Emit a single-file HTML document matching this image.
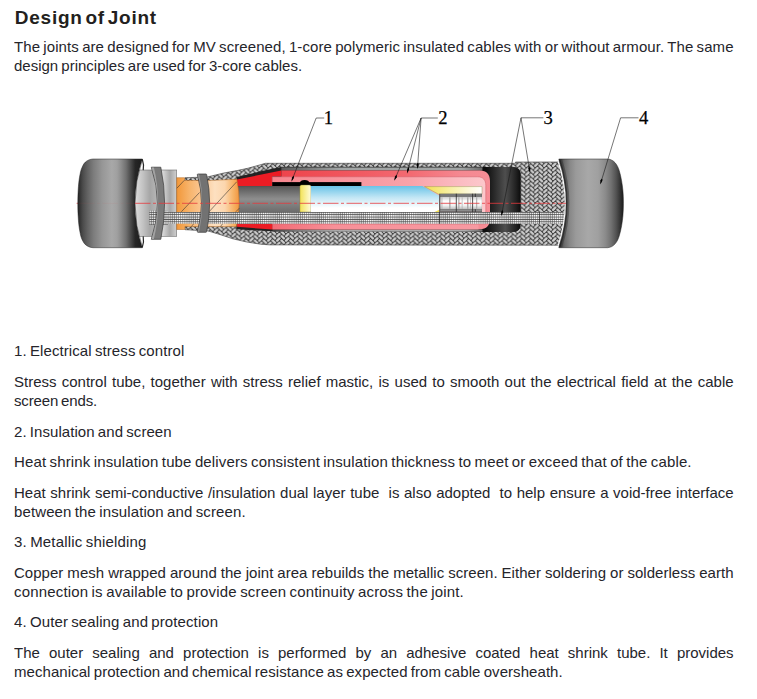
<!DOCTYPE html>
<html>
<head>
<meta charset="utf-8">
<title>Design of Joint</title>
<style>
html,body{margin:0;padding:0;background:#fff;}
body{width:757px;height:699px;position:relative;overflow:hidden;font-family:"Liberation Sans",sans-serif;color:#25252b;}
.l{position:absolute;left:14.0px;white-space:nowrap;font-size:15.0px;line-height:19px;height:19px;word-spacing:-1.0px;transform:scaleY(0.933);transform-origin:0 0;}
.j{text-align:justify;text-align-last:justify;}
h1{position:absolute;left:14.8px;top:6.1px;margin:0;font-size:19px;line-height:24px;height:24px;font-weight:bold;white-space:nowrap;letter-spacing:0.75px;word-spacing:-3.2px;color:#231f20;}
#dg{position:absolute;left:0;top:100px;}
.num{font-family:"Liberation Serif",serif;font-size:18.6px;fill:#000;stroke:#000;stroke-width:0.25px;}
</style>
</head>
<body>
<h1>Design of Joint</h1>
<div class="l j" style="top:38.3px;width:719.6px;letter-spacing:0.075px">The joints are designed for MV screened, 1-core polymeric insulated cables with or without armour. The same</div>
<div class="l" style="top:56.8px;letter-spacing:-0.005px">design principles are used for 3-core cables.</div>
<div class="l" style="top:342.2px;letter-spacing:0.089px">1. Electrical stress control</div>
<div class="l j" style="top:372.8px;width:719.6px;letter-spacing:0.000px">Stress control tube, together with stress relief mastic, is used to smooth out the electrical field at the cable</div>
<div class="l" style="top:392.3px;letter-spacing:-0.154px">screen ends.</div>
<div class="l" style="top:422.7px;letter-spacing:0.057px">2. Insulation and screen</div>
<div class="l" style="top:453.1px;letter-spacing:0.141px">Heat shrink insulation tube delivers consistent insulation thickness to meet or exceed that of the cable.</div>
<div class="l j" style="top:483.9px;width:719.6px;letter-spacing:0.000px">Heat shrink semi-conductive /insulation dual layer tube &nbsp;is also adopted &nbsp;to help ensure a void-free interface</div>
<div class="l" style="top:502.9px;letter-spacing:0.114px">between the insulation and screen.</div>
<div class="l" style="top:532.7px;letter-spacing:0.170px">3. Metallic shielding</div>
<div class="l j" style="top:564.2px;width:719.6px;letter-spacing:0.030px">Copper mesh wrapped around the joint area rebuilds the metallic screen. Either soldering or solderless earth</div>
<div class="l" style="top:582.9px;letter-spacing:0.172px">connection is available to provide screen continuity across the joint.</div>
<div class="l" style="top:613.4px;letter-spacing:0.099px">4. Outer sealing and protection</div>
<div class="l j" style="top:644.0px;width:719.6px;letter-spacing:0.000px">The outer sealing and protection is performed by an adhesive coated heat shrink tube. It provides</div>
<div class="l" style="top:662.9px;letter-spacing:0.062px">mechanical protection and chemical resistance as expected from cable oversheath.</div>
<svg id="dg" width="757" height="160" viewBox="0 100 757 160">
<defs>
  <pattern id="braid" width="8.90" height="4.40" patternUnits="userSpaceOnUse" patternTransform="translate(516.4 162.5)">
    <rect width="8.90" height="4.40" fill="#222222"/>
    <g fill="#cccccc"><rect x="-9.43" y="-7.80" width="5.50" height="2.40" rx="0.8" transform="rotate(-45 -6.68 -6.60)"/><rect x="-0.52" y="-7.80" width="5.50" height="2.40" rx="0.8" transform="rotate(-45 2.23 -6.60)"/><rect x="8.38" y="-7.80" width="5.50" height="2.40" rx="0.8" transform="rotate(-45 11.12 -6.60)"/><rect x="-9.43" y="-3.40" width="5.50" height="2.40" rx="0.8" transform="rotate(-45 -6.68 -2.20)"/><rect x="-0.52" y="-3.40" width="5.50" height="2.40" rx="0.8" transform="rotate(-45 2.23 -2.20)"/><rect x="8.38" y="-3.40" width="5.50" height="2.40" rx="0.8" transform="rotate(-45 11.12 -2.20)"/><rect x="-9.43" y="1.00" width="5.50" height="2.40" rx="0.8" transform="rotate(-45 -6.68 2.20)"/><rect x="-0.52" y="1.00" width="5.50" height="2.40" rx="0.8" transform="rotate(-45 2.23 2.20)"/><rect x="8.38" y="1.00" width="5.50" height="2.40" rx="0.8" transform="rotate(-45 11.12 2.20)"/><rect x="-9.43" y="5.40" width="5.50" height="2.40" rx="0.8" transform="rotate(-45 -6.68 6.60)"/><rect x="-0.52" y="5.40" width="5.50" height="2.40" rx="0.8" transform="rotate(-45 2.23 6.60)"/><rect x="8.38" y="5.40" width="5.50" height="2.40" rx="0.8" transform="rotate(-45 11.12 6.60)"/><rect x="-9.43" y="9.80" width="5.50" height="2.40" rx="0.8" transform="rotate(-45 -6.68 11.00)"/><rect x="-0.52" y="9.80" width="5.50" height="2.40" rx="0.8" transform="rotate(-45 2.23 11.00)"/><rect x="8.38" y="9.80" width="5.50" height="2.40" rx="0.8" transform="rotate(-45 11.12 11.00)"/><rect x="-4.97" y="-10.00" width="5.50" height="2.40" rx="0.8" transform="rotate(45 -2.22 -8.80)"/><rect x="3.93" y="-10.00" width="5.50" height="2.40" rx="0.8" transform="rotate(45 6.68 -8.80)"/><rect x="12.83" y="-10.00" width="5.50" height="2.40" rx="0.8" transform="rotate(45 15.58 -8.80)"/><rect x="-4.97" y="-5.60" width="5.50" height="2.40" rx="0.8" transform="rotate(45 -2.22 -4.40)"/><rect x="3.93" y="-5.60" width="5.50" height="2.40" rx="0.8" transform="rotate(45 6.68 -4.40)"/><rect x="12.83" y="-5.60" width="5.50" height="2.40" rx="0.8" transform="rotate(45 15.58 -4.40)"/><rect x="-4.97" y="-1.20" width="5.50" height="2.40" rx="0.8" transform="rotate(45 -2.22 0.00)"/><rect x="3.93" y="-1.20" width="5.50" height="2.40" rx="0.8" transform="rotate(45 6.68 0.00)"/><rect x="12.83" y="-1.20" width="5.50" height="2.40" rx="0.8" transform="rotate(45 15.58 0.00)"/><rect x="-4.97" y="3.20" width="5.50" height="2.40" rx="0.8" transform="rotate(45 -2.22 4.40)"/><rect x="3.93" y="3.20" width="5.50" height="2.40" rx="0.8" transform="rotate(45 6.68 4.40)"/><rect x="12.83" y="3.20" width="5.50" height="2.40" rx="0.8" transform="rotate(45 15.58 4.40)"/><rect x="-4.97" y="7.60" width="5.50" height="2.40" rx="0.8" transform="rotate(45 -2.22 8.80)"/><rect x="3.93" y="7.60" width="5.50" height="2.40" rx="0.8" transform="rotate(45 6.68 8.80)"/><rect x="12.83" y="7.60" width="5.50" height="2.40" rx="0.8" transform="rotate(45 15.58 8.80)"/></g>
  </pattern>
  <pattern id="mesh" width="2.1" height="2.38" patternUnits="userSpaceOnUse" patternTransform="translate(149 211.9)">
    <rect width="2.1" height="2.38" fill="#484848"/>
    <rect x="0.4" y="0.75" width="1.5" height="1.6" fill="#ffffff"/>
  </pattern>
  <linearGradient id="capL" x1="78" x2="143" y1="0" y2="0" gradientUnits="userSpaceOnUse">
    <stop offset="0" stop-color="#242424"/>
    <stop offset="0.038" stop-color="#3a3a3a"/>
    <stop offset="0.077" stop-color="#4c4c4c"/>
    <stop offset="0.146" stop-color="#626262"/>
    <stop offset="0.238" stop-color="#7c7c7c"/>
    <stop offset="0.37" stop-color="#969696"/>
    <stop offset="0.52" stop-color="#a8a8a8"/>
    <stop offset="0.6" stop-color="#a0a0a0"/>
    <stop offset="0.66" stop-color="#8e8e8e"/>
    <stop offset="0.74" stop-color="#707070"/>
    <stop offset="0.815" stop-color="#484848"/>
    <stop offset="0.88" stop-color="#262626"/>
    <stop offset="1" stop-color="#1a1a1a"/>
  </linearGradient>
  <linearGradient id="capR" x1="559" x2="624" y1="0" y2="0" gradientUnits="userSpaceOnUse">
    <stop offset="0" stop-color="#3a3a3a"/>
    <stop offset="0.04" stop-color="#505050"/>
    <stop offset="0.09" stop-color="#6e6e6e"/>
    <stop offset="0.17" stop-color="#888888"/>
    <stop offset="0.26" stop-color="#9a9a9a"/>
    <stop offset="0.45" stop-color="#a8a8a8"/>
    <stop offset="0.6" stop-color="#a0a0a0"/>
    <stop offset="0.71" stop-color="#8c8c8c"/>
    <stop offset="0.8" stop-color="#727272"/>
    <stop offset="0.88" stop-color="#525252"/>
    <stop offset="0.94" stop-color="#343434"/>
    <stop offset="1" stop-color="#161616"/>
  </linearGradient>
  <linearGradient id="sheathA" x1="135" x2="158" y1="0" y2="0" gradientUnits="userSpaceOnUse">
    <stop offset="0" stop-color="#dedede"/>
    <stop offset="0.35" stop-color="#c2c2c2"/>
    <stop offset="0.65" stop-color="#a6a6a6"/>
    <stop offset="1" stop-color="#b8b8b8"/>
  </linearGradient>
  <linearGradient id="sheathB" x1="163" x2="177" y1="0" y2="0" gradientUnits="userSpaceOnUse">
    <stop offset="0" stop-color="#d6d6d6"/>
    <stop offset="0.5" stop-color="#a8a8a8"/>
    <stop offset="1" stop-color="#d2d2d2"/>
  </linearGradient>
  <linearGradient id="orange" x1="177" x2="240" y1="0" y2="0" gradientUnits="userSpaceOnUse">
    <stop offset="0" stop-color="#f2983a"/>
    <stop offset="0.2" stop-color="#f7b46c"/>
    <stop offset="0.365" stop-color="#fac48e"/>
    <stop offset="0.6" stop-color="#fde0c0"/>
    <stop offset="0.76" stop-color="#fcd6ae"/>
    <stop offset="0.89" stop-color="#f7b468"/>
    <stop offset="1" stop-color="#f0923a"/>
  </linearGradient>
  <linearGradient id="core" x1="0" x2="0" y1="186" y2="212" gradientUnits="userSpaceOnUse">
    <stop offset="0" stop-color="#555"/>
    <stop offset="0.5" stop-color="#8e8e8e"/>
    <stop offset="1" stop-color="#6c6c6c"/>
  </linearGradient>
  <linearGradient id="yel" x1="300" x2="311" y1="0" y2="0" gradientUnits="userSpaceOnUse">
    <stop offset="0" stop-color="#f3e256"/>
    <stop offset="1" stop-color="#fffcdc"/>
  </linearGradient>
  <linearGradient id="yel2" x1="424" x2="482" y1="0" y2="0" gradientUnits="userSpaceOnUse">
    <stop offset="0" stop-color="#f2e052"/>
    <stop offset="0.4" stop-color="#f8ee9a"/>
    <stop offset="1" stop-color="#ffffff"/>
  </linearGradient>
  <linearGradient id="blue" x1="0" x2="0" y1="186" y2="212" gradientUnits="userSpaceOnUse">
    <stop offset="0" stop-color="#69c3e7"/>
    <stop offset="0.45" stop-color="#c4e7f5"/>
    <stop offset="0.85" stop-color="#ffffff"/>
    <stop offset="1" stop-color="#ffffff"/>
  </linearGradient>
  <linearGradient id="pinkA" x1="281" x2="490" y1="0" y2="0" gradientUnits="userSpaceOnUse">
    <stop offset="0" stop-color="#ee444c"/>
    <stop offset="0.28" stop-color="#f0545c"/>
    <stop offset="0.62" stop-color="#f36a72"/>
    <stop offset="0.86" stop-color="#f58891"/>
    <stop offset="1" stop-color="#f68d96"/>
  </linearGradient>
  <linearGradient id="pinkB" x1="272" x2="486" y1="0" y2="0" gradientUnits="userSpaceOnUse">
    <stop offset="0" stop-color="#f7858e"/>
    <stop offset="0.35" stop-color="#f8969e"/>
    <stop offset="0.65" stop-color="#f9a3aa"/>
    <stop offset="0.88" stop-color="#fbbcc2"/>
    <stop offset="1" stop-color="#fcc8cc"/>
  </linearGradient>
  <linearGradient id="pinkC" x1="272" x2="480" y1="0" y2="0" gradientUnits="userSpaceOnUse">
    <stop offset="0" stop-color="#f36a74"/>
    <stop offset="0.3" stop-color="#f79098"/>
    <stop offset="1" stop-color="#f79aa2"/>
  </linearGradient>
  <linearGradient id="tube" x1="486" x2="521" y1="0" y2="0" gradientUnits="userSpaceOnUse">
    <stop offset="0" stop-color="#0e0e0e"/>
    <stop offset="0.55" stop-color="#4e4e4e"/>
    <stop offset="0.85" stop-color="#222"/>
    <stop offset="1" stop-color="#0a0a0a"/>
  </linearGradient>
  <linearGradient id="gband" x1="281" x2="482" y1="0" y2="0" gradientUnits="userSpaceOnUse">
    <stop offset="0" stop-color="#5a5a5a"/>
    <stop offset="0.3" stop-color="#a2a6a6"/>
    <stop offset="0.9" stop-color="#a0a4a4"/>
    <stop offset="1" stop-color="#6a6a6a"/>
  </linearGradient>
  <linearGradient id="gband2" x1="272" x2="482" y1="0" y2="0" gradientUnits="userSpaceOnUse">
    <stop offset="0" stop-color="#3a3a3a"/>
    <stop offset="0.12" stop-color="#7a7a7a"/>
    <stop offset="0.3" stop-color="#a8a8a8"/>
    <stop offset="0.92" stop-color="#adadad"/>
    <stop offset="1" stop-color="#6a6a6a"/>
  </linearGradient>
  <linearGradient id="rib" x1="0" x2="0" y1="196.5" y2="209.5" gradientUnits="userSpaceOnUse">
    <stop offset="0" stop-color="#c8c8c8"/>
    <stop offset="0.35" stop-color="#ffffff"/>
    <stop offset="0.7" stop-color="#f0f0f0"/>
    <stop offset="1" stop-color="#b8b8b8"/>
  </linearGradient>
</defs>

<!-- centre line behind the left cap (barely visible) -->
<path d="M76.6,203.3 H79" stroke="#e8474d" stroke-width="0.8" fill="none"/>

<!-- outer braid -->
<path d="M185,177.7 L207.1,177 L223.8,173 L236.9,170.6 L247.6,168.3 L257.1,165.7 L265.4,163.3 L515.5,163.3 L515.5,162 L558.8,162 Q572,203.5 558.8,245.2 L269.8,244.9 L260.5,244.2 L246.6,242 L232.8,238.8 L218.9,234.2 L207.8,230.9 L185,229.7 Z" fill="url(#braid)" stroke="#3a3a3a" stroke-width="0.6"/>

<!-- light grey sheath -->
<rect x="134" y="170" width="25" height="66.3" fill="url(#sheathA)"/>
<rect x="158" y="170" width="18.7" height="66.3" fill="url(#sheathB)"/>
<rect x="134" y="170" width="42.7" height="66.3" fill="none" stroke="#6e6e6e" stroke-width="0.6"/>

<!-- black heat shrink tube (cutaway) -->
<path d="M236.6,177 L247.6,174.6 L259.5,171.6 L271.3,169 L280.9,166.9 L512.5,166.9 Q520.5,166.9 520.5,175 L520.5,224 Q520.5,232 512.5,232 L272.5,231.3 L236.3,229.3 Z" fill="#222"/>
<path d="M482,166.9 L512.5,166.9 Q520.5,166.9 520.5,175 L520.5,224 Q520.5,232 512.5,232 L482,232 Z" fill="url(#tube)"/>
<!-- grey lining bands -->
<rect x="281.4" y="167" width="201" height="3.5" fill="url(#gband)"/>
<rect x="272.5" y="229.5" width="210" height="2.1" fill="url(#gband2)"/>
<path d="M281,167.2 H482" stroke="#333" stroke-width="0.8" fill="none"/>
<path d="M281.4,170.55 H480" stroke="#6a4a4c" stroke-width="0.5" fill="none"/>

<!-- red mastic wedge -->
<path d="M237,179.4 L281.4,170.6 L281.4,176.5 L272.2,176.5 L272.2,186.2 L237,186.2 Z" fill="#ec1c24"/>
<path d="M237,223.8 L272.5,223.8 L272.5,229.6 L237,226.8 Z" fill="#ec1c24"/>

<!-- outer pink layer -->
<path d="M281.4,170.5 L480,170.5 C486.5,170.5 490,174.5 490,181 L490,219 C490,225.5 486.5,229.3 480,229.3 L272.5,229.3 L272.5,224 L281.4,224 Z" fill="url(#pinkA)"/>
<rect x="272.5" y="224" width="206" height="5.4" fill="url(#pinkC)"/>
<!-- inner pink layer -->
<path d="M272.2,176.8 L477.5,176.8 C483,176.8 485.8,180 485.8,185.5 L485.8,224.2 L272.2,224.2 Z" fill="url(#pinkB)" stroke="#cf5a64" stroke-width="0.5"/>

<!-- grey semicon core -->
<rect x="237" y="186.1" width="63" height="26" fill="url(#core)"/>
<!-- black stress control bar -->
<rect x="272.2" y="182.1" width="89.2" height="4" fill="#000"/>
<ellipse cx="304.6" cy="182.7" rx="4.5" ry="2.6" fill="#000"/>
<!-- yellow -->
<path d="M299.9,212 L299.9,186.6 Q299.9,185 301.5,185 L309.4,185 Q311,185 311,186.6 L311,212 Z" fill="url(#yel)" stroke="#77773a" stroke-width="0.4"/>
<!-- blue insulation -->
<path d="M311,186 L422.4,186 L439,195.6 L439,212 L311,212 Z" fill="url(#blue)"/>
<!-- yellow wedge -->
<path d="M424.5,186.6 L482,186.6 L482,194.2 L438.5,194.2 Z" fill="url(#yel2)" stroke="#8a8a4a" stroke-width="0.4"/>
<path d="M434.5,212 L439.3,209.8 L439.3,212 Z" fill="#f2e052"/>
<!-- connector -->
<rect x="439.1" y="193.7" width="42.9" height="18.2" fill="#585858"/>
<rect x="440.3" y="194.5" width="41.5" height="1" fill="#9a9a9a"/>
<rect x="440.3" y="210.2" width="41.5" height="1" fill="#9a9a9a"/>
<rect x="440.4" y="196.7" width="41.5" height="12.7" fill="url(#rib)"/>
<g fill="#a6a6a6">
  <rect x="441.6" y="197.2" width="0.7" height="11.7"/>
  <rect x="449.2" y="197.2" width="1.3" height="11.7"/>
  <rect x="458.3" y="197.2" width="1.1" height="11.7"/>
  <rect x="461.8" y="197.2" width="0.6" height="11.7"/>
  <rect x="467.1" y="197.2" width="1.3" height="11.7"/>
  <rect x="470.4" y="197.2" width="0.6" height="11.7"/>
  <rect x="476.2" y="197.2" width="1" height="11.7"/>
</g>
<g stroke="#262626" stroke-width="0.8">
  <path d="M456.3,193.7 V211.9"/>
  <path d="M472.6,193.7 V211.9"/>
  <path d="M475.3,193.7 V197 M475.3,209.2 V211.9"/>
</g>

<!-- orange bedding -->
<path d="M176.7,177.7 L184.5,177.7 L184.5,180.5 L208,180.5 L236.9,179.3 Q241.8,203 236.4,226.6 L207.7,226.6 L184.8,226.6 L184.8,229.5 L176.7,229.5 Z" fill="url(#orange)" stroke="#b0651c" stroke-width="0.5"/>
<g stroke="#2a2a2a" stroke-width="0.55" fill="none">
  <path d="M176.9,188.2 L184.3,180.3"/>
  <path d="M181.3,211.8 L199.5,192.5"/>
  <path d="M209,211.8 L236.7,181.8"/>
  <path d="M235.8,211.8 L239.3,208.2"/>
  <path d="M191.5,226.4 L193.5,224"/>
  <path d="M220.5,226.4 L222.5,224"/>
</g>

<!-- mesh strip (earth braid) -->
<path d="M149.2,210.4 L168,210.4 L168,211.9 L563.3,211.9 L564.6,223.8 L168,223.8 L168,225 L149.2,225 Z" fill="url(#mesh)"/>
<g stroke="#222" stroke-width="0.7">
  <path d="M439.5,211.9 V223.8"/>
  <path d="M539.4,211.9 V223.8"/>
</g>

<!-- rings -->
<path d="M151.3,167.2 L160.8,167.2 Q168.4,203.2 160.8,239.3 L151.3,239.3 Q163.7,203.2 151.3,167.2 Z" fill="#7a7a7a" stroke="#3a3a3a" stroke-width="0.7"/>
<path d="M151.6,167.6 Q163.7,203.2 151.6,238.9 L153.9,238.9 Q162.4,203.2 153.9,167.6 Z" fill="#a4a4a4"/>
<path d="M198,174 L205.9,174 Q206.6,174 206.7,174.8 Q212.6,203 206.7,231.5 Q206.6,232.3 205.9,232.3 L198,232.3 Q197.2,232.3 197.3,231.5 Q205.7,203 197.3,174.8 Q197.2,174 198,174 Z" fill="#727272" stroke="#3a3a3a" stroke-width="0.7"/>
<path d="M197.7,174.6 Q205.7,203 197.7,231.7 L199.2,231.7 Q205.4,203 199.2,174.6 Z" fill="#969696"/>

<!-- caps -->
<path d="M142.4,159 L93,159 C87.5,159.4 84.5,162.5 83.2,165 C81.6,168 80.6,171 80.2,173.5 C79,179 78.4,186 78.2,190 C77.7,198 77.7,209 78.2,216.6 C78.4,221 79,228 80.2,233.2 C80.6,236 81.6,239 83.2,241.7 C84.5,244.2 87.5,247.3 93,247.7 L142.4,247.7 Q127.6,203.3 142.4,159 Z" fill="url(#capL)" stroke="#262626" stroke-width="0.5"/>
<path d="M142.3,159.3 Q144.2,165 143.2,170.2" fill="none" stroke="#262626" stroke-width="1.2"/>
<path d="M142.3,247.4 Q144.2,241.6 143.2,236.3" fill="none" stroke="#262626" stroke-width="1.2"/>
<path d="M558.8,159 L607.5,159 C614,159.3 617.5,165 619.2,170.5 C621.2,177 622.4,185 622.9,190.5 C623.6,198 623.6,208.6 622.9,216 C622.4,221.6 621.2,229.6 619.2,236 C617.5,241.6 614,247.4 607.5,247.7 L558.8,247.7 Q573.4,203.3 558.8,159 Z" fill="url(#capR)" stroke="#222" stroke-width="0.5"/>
<path d="M559.6,159.4 Q574.2,203.3 559.6,247.3" fill="none" stroke="#1e1e1e" stroke-width="1.6" opacity="0.75"/>
<path d="M561.2,159.4 Q575.8,203.3 561.2,247.3" fill="none" stroke="#2a2a2a" stroke-width="1.8" opacity="0.4"/>
<path d="M558.2,161.5 Q572.2,203.3 558.2,245.5" fill="none" stroke="#fff" stroke-width="1.1"/>

<!-- centre line -->
<path d="M135,203.3 H566" stroke="#e6383e" stroke-width="0.8" stroke-dasharray="15.5 2.5 3 2.5" fill="none"/>
<path d="M79,203.3 H135" stroke="#e8474d" stroke-width="0.6" stroke-dasharray="15.5 2.5 3 2.5" fill="none" opacity="0.12"/>

<!-- leaders -->
<g stroke="#1a1a1a" stroke-width="0.6" fill="none">
  <path d="M324.2,118 H316.2 L292,180.2"/>
  <path d="M437.8,118 H421.1 L394.8,179.4 M421.1,118 L407.4,172.2 M421.1,118 L417.5,167.6"/>
  <path d="M543.4,117.8 H521 L501.5,215 M521,117.8 L529.8,171.4"/>
  <path d="M638.5,117.8 H620.6 L600.6,183.4"/>
</g>
<g fill="#000">
  <polygon points="291.4,181.8 292.0,177.4 293.2,176.1 293.9,176.3 293.9,178.1"/>
  <polygon points="394.2,180.8 395.0,176.4 396.2,175.1 396.9,175.4 396.8,177.2"/>
  <polygon points="407.1,173.5 407.2,169.1 408.2,167.6 408.9,167.8 409.1,169.6"/>
  <polygon points="417.4,168.9 416.7,164.5 417.5,162.9 418.2,162.9 418.7,164.7"/>
  <polygon points="501.3,216.3 501.2,211.9 502.1,210.3 502.8,210.5 503.1,212.3"/>
  <polygon points="530.0,172.7 528.3,168.6 528.7,166.8 529.4,166.7 530.3,168.3"/>
  <polygon points="600.2,184.6 600.5,180.2 601.6,178.8 602.3,179.0 602.4,180.8"/>
</g>
<text class="num" x="323.8" y="124.3">1</text>
<text class="num" x="438.2" y="124.3">2</text>
<text class="num" x="543.6" y="124.3">3</text>
<text class="num" x="639" y="124.3">4</text>
</svg>
</body>
</html>
